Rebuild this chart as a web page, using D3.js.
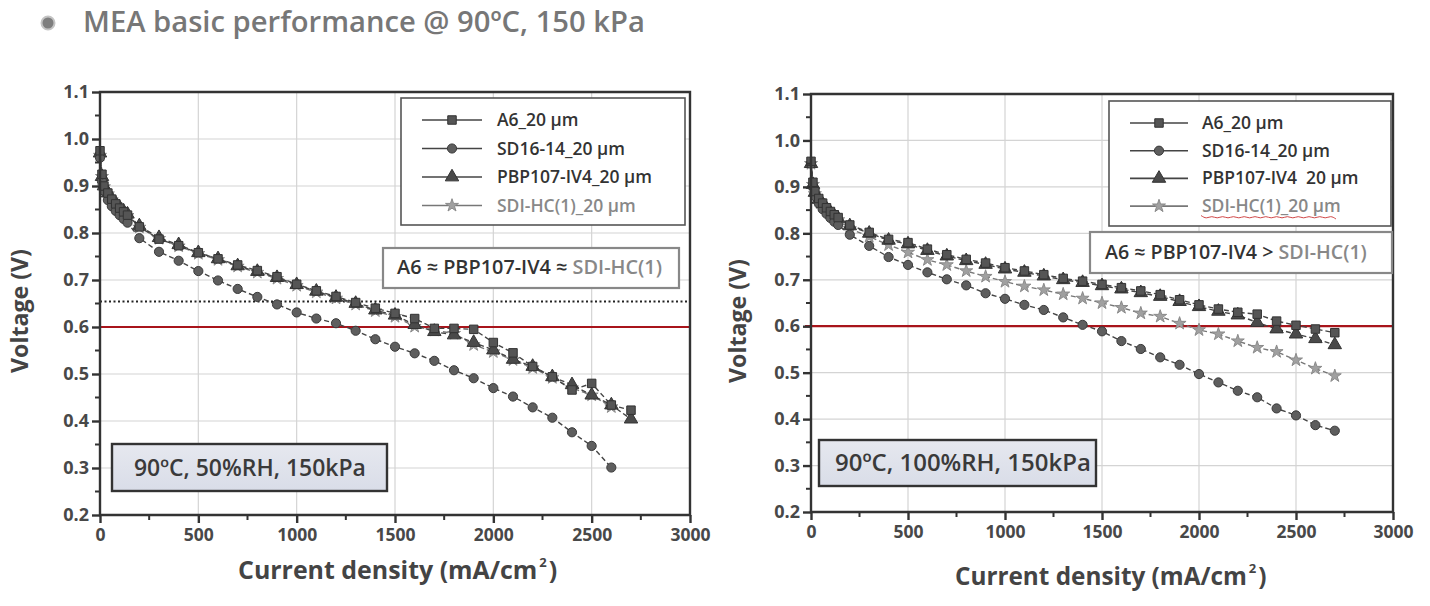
<!DOCTYPE html>
<html><head><meta charset="utf-8">
<script src="https://cdn.jsdelivr.net/npm/d3@7"></script>
<style>body{margin:0;background:#fff}svg{display:block}text{font-family:"Open Sans",sans-serif}</style>
</head><body>
<svg id="c" width="1430" height="606"></svg>
<script>
// ---------- DATA ----------
const currents = [0,10,20,40,60,80,100,120,140,200,300,400,500,600,700,800,900,1000,1100,1200,1300,1400,1500,1600,1700,1800,1900,2000,2100,2200,2300,2400,2500,2600,2700];
const seriesNames = ["A6_20 µm","SD16-14_20 µm","PBP107-IV4_20 µm","SDI-HC(1)_20 µm"];
const seriesNamesRight = ["A6_20 µm","SD16-14_20 µm","PBP107-IV4\u00a0\u00a020 µm","SDI-HC(1)_20 µm"];
// 90°C, 50%RH
const leftA6  = [0.975,0.925,0.90,0.885,0.872,0.862,0.853,0.845,0.838,0.813,0.787,0.773,0.758,0.745,0.732,0.720,0.707,0.691,0.677,0.665,0.652,0.640,0.629,0.618,0.597,0.597,0.595,0.567,0.545,0.516,0.494,0.466,0.480,0.434,0.423];
const leftSD  = [0.96,0.91,0.89,0.87,0.857,0.847,0.838,0.830,0.822,0.789,0.760,0.741,0.719,0.699,0.681,0.664,0.648,0.631,0.618,0.608,0.592,0.574,0.558,0.544,0.528,0.508,0.491,0.470,0.452,0.429,0.407,0.376,0.347,0.301,null];
const leftPBP = [0.97,0.92,0.90,0.885,0.873,0.863,0.854,0.846,0.840,0.815,0.790,0.775,0.758,0.745,0.730,0.718,0.705,0.690,0.676,0.663,0.650,0.636,0.625,0.605,0.590,0.583,0.567,0.551,0.531,0.516,0.494,0.477,0.455,0.434,0.404];
const leftSDI = [0.965,0.92,0.898,0.883,0.870,0.860,0.851,0.843,0.837,0.812,0.788,0.772,0.756,0.743,0.729,0.716,0.703,0.688,0.674,0.661,0.648,0.634,0.622,0.601,0.593,0.586,0.562,0.547,0.530,0.513,0.492,0.470,0.455,0.430,null];
// 90°C, 100%RH
const rightA6  = [0.955,0.91,0.89,0.875,0.865,0.855,0.847,0.840,0.834,0.818,0.802,0.787,0.780,0.766,0.754,0.744,0.736,0.726,0.719,0.711,0.703,0.697,0.690,0.683,0.676,0.668,0.657,0.646,0.637,0.630,0.626,0.611,0.602,0.594,0.586];
const rightSD  = [0.95,0.90,0.88,0.865,0.852,0.842,0.833,0.825,0.818,0.797,0.773,0.749,0.732,0.716,0.701,0.688,0.671,0.659,0.646,0.635,0.619,0.603,0.589,0.568,0.551,0.533,0.517,0.497,0.479,0.461,0.447,0.423,0.408,0.387,0.375];
const rightPBP = [0.95,0.905,0.888,0.873,0.863,0.853,0.845,0.838,0.832,0.816,0.800,0.785,0.777,0.763,0.751,0.741,0.733,0.723,0.716,0.708,0.700,0.694,0.687,0.680,0.672,0.664,0.653,0.642,0.632,0.624,0.608,0.594,0.583,0.573,0.560];
const rightSDI = [0.95,0.905,0.885,0.87,0.86,0.85,0.842,0.835,0.829,0.810,0.793,0.775,0.759,0.743,0.732,0.719,0.707,0.696,0.686,0.678,0.669,0.660,0.650,0.640,0.628,0.621,0.606,0.592,0.583,0.568,0.554,0.545,0.527,0.509,0.493];
const xTicks = [0,500,1000,1500,2000,2500,3000];
const yTicks = [0.2,0.3,0.4,0.5,0.6,0.7,0.8,0.9,1.0,1.1];
const refLine = 0.6;
const dottedLine = 0.654;
const titleText = "MEA basic performance @ 90ºC, 150 kPa";
const leftCondition = "90ºC, 50%RH, 150kPa";
const rightCondition = "90ºC, 100%RH, 150kPa";

// ---------- DRAW ----------
const svg = d3.select("#c");
svg.append("rect").attr("width",1430).attr("height",606).attr("fill","#fff");

function fit(sel, target){
  const n = sel.node(); const w = n.getComputedTextLength();
  const fs = parseFloat(sel.attr("font-size"));
  sel.attr("font-size", fs*target/w);
}

// title
svg.append("circle").attr("cx",48).attr("cy",23).attr("r",6.5).attr("fill","#7e7e7e").attr("stroke","#c4c4c4").attr("stroke-width",2);
fit(svg.append("text").attr("x",83).attr("y",32).attr("font-size",26).attr("font-weight",600)
  .attr("fill","#777").text(titleText), 562);

const symbols = [d3.symbolSquare, d3.symbolCircle, d3.symbolTriangle, d3.symbolStar];
const symSize = [72, 66, 78, 52];
const markFill = ["#555","#5e5e5e","#4a4a4a","#a0a0a0"];
const markStroke = ["#333","#3a3a3a","#333","#8a8a8a"];
const lineCol = ["#444","#444","#444","#777"];

function chart(o){
  const g = svg.append("g");
  const x = d3.scaleLinear().domain([0,3000]).range([o.x0,o.x1]);
  const y = d3.scaleLinear().domain([0.2,1.1]).range([o.y1,o.y0]);
  // grid
  g.append("g").selectAll("line").data(xTicks.slice(1,-1)).join("line")
    .attr("x1",d=>x(d)).attr("x2",d=>x(d)).attr("y1",o.y0).attr("y2",o.y1)
    .attr("stroke","#d4d4d4").attr("stroke-width",1.2);
  g.append("g").selectAll("line").data(yTicks.slice(1,-1)).join("line")
    .attr("x1",o.x0).attr("x2",o.x1).attr("y1",d=>y(d)).attr("y2",d=>y(d))
    .attr("stroke","#d4d4d4").attr("stroke-width",1.2);
  if(o.dotted!=null){
    g.append("line").attr("x1",o.x0).attr("x2",o.x1-2).attr("y1",y(o.dotted)).attr("y2",y(o.dotted))
      .attr("stroke","#222").attr("stroke-width",2).attr("stroke-dasharray","2,2.5");
  }
  g.append("line").attr("x1",o.x0-o.redExt).attr("x2",o.x1).attr("y1",y(refLine)).attr("y2",y(refLine))
    .attr("stroke","#a8141b").attr("stroke-width",2.2);
  // series
  const order = [3,2,1,0];
  order.forEach(i=>{
    const pts = currents.map((c,k)=>[c,o.data[i][k]]).filter(p=>p[1]!=null);
    g.append("path").attr("d", d3.line().x(p=>x(p[0])).y(p=>y(p[1]))(pts))
      .attr("fill","none").attr("stroke",lineCol[i]).attr("stroke-width",1.4).attr("stroke-dasharray","5,3");
    g.append("g").selectAll("path").data(pts).join("path")
      .attr("transform",p=>`translate(${x(p[0])},${y(p[1])})`)
      .attr("d", d3.symbol().type(symbols[i]).size(symSize[i]))
      .attr("fill",markFill[i]).attr("stroke",markStroke[i]).attr("stroke-width",1);
  });
  // axes
  const ax = g.append("g").attr("transform",`translate(0,${o.y1})`)
    .call(d3.axisBottom(x).tickValues(xTicks).tickSize(8).tickPadding(6).tickFormat(d3.format("d")));
  ax.select(".domain").remove();
  ax.selectAll(".tick line").attr("stroke","#333").attr("stroke-width",2.4);
  ax.selectAll("text").attr("font-size",17.5).attr("font-weight",700).attr("fill","#484848").attr("font-family","Open Sans");
  g.append("g").selectAll("line").data([250,750,1250,1750,2250,2750]).join("line")
    .attr("x1",d=>x(d)).attr("x2",d=>x(d)).attr("y1",o.y1).attr("y2",o.y1+5).attr("stroke","#333").attr("stroke-width",2);
  const ay = g.append("g").attr("transform",`translate(${o.x0},0)`)
    .call(d3.axisLeft(y).tickValues(yTicks).tickSize(8).tickPadding(3).tickFormat(d3.format(".1f")));
  ay.select(".domain").remove();
  ay.selectAll(".tick line").attr("stroke","#333").attr("stroke-width",2.4);
  ay.selectAll("text").attr("font-size",18).attr("font-weight",700).attr("fill","#484848").attr("font-family","Open Sans");
  g.append("g").selectAll("line").data([0.25,0.35,0.45,0.55,0.65,0.75,0.85,0.95,1.05]).join("line")
    .attr("x1",o.x0-5).attr("x2",o.x0).attr("y1",d=>y(d)).attr("y2",d=>y(d)).attr("stroke","#333").attr("stroke-width",2);
  // frame
  g.append("path").attr("d",`M${o.x0},${o.y1}V${o.y0}H${o.x1}V${o.y1}Z`).attr("fill","none").attr("stroke","#333").attr("stroke-width",2.4);
  // axis titles
  fit(g.append("text").attr("transform",`translate(${o.ytx},${o.yty}) rotate(-90)`).attr("text-anchor","middle")
    .attr("font-size",22).attr("font-weight",700).attr("fill","#444").text("Voltage (V)"), 124);
  const xt = g.append("text").attr("x",o.xtx).attr("y",o.xty).attr("font-size",23).attr("font-weight",700).attr("fill","#444");
  xt.append("tspan").text("Current density (mA/cm");
  xt.append("tspan").attr("font-size",13).attr("dy",-12).attr("dx",2).text("2");
  xt.append("tspan").attr("dy",12).attr("dx",2).text(")");
  fit(xt, o.xtw);
  // legend
  const L = o.leg;
  g.append("rect").attr("x",L.x).attr("y",L.y).attr("width",L.w).attr("height",L.h).attr("fill","#fff").attr("stroke","#555").attr("stroke-width",1.6);
  o.names.forEach((nm,i)=>{
    const yy = L.y + L.r0 + i*L.dy;
    g.append("line").attr("x1",L.lx).attr("x2",L.lx+L.lw).attr("y1",yy).attr("y2",yy).attr("stroke",lineCol[i]).attr("stroke-width",1.6);
    g.append("path").attr("transform",`translate(${L.lx+L.lw/2},${yy})`).attr("d",d3.symbol().type(symbols[i]).size(symSize[i]))
      .attr("fill",markFill[i]).attr("stroke",markStroke[i]);
    g.append("text").attr("x",L.tx).attr("y",yy+6).attr("font-size",17.5).attr("font-weight",600)
      .attr("fill", i==3?"#888":"#333").text(nm);
  });
  // comparison box
  const A = o.ann;
  g.append("rect").attr("x",A.x).attr("y",A.y).attr("width",A.w).attr("height",A.h).attr("fill","#fff").attr("stroke","#888").attr("stroke-width",2.2);
  const at = g.append("text").attr("x",A.tx).attr("y",A.y+A.h/2+6).attr("font-size",16.5).attr("font-weight",600).attr("fill","#333");
  at.append("tspan").text(A.t1);
  at.append("tspan").attr("fill","#888").text("SDI-HC(1)");
  fit(at, A.tw);
  // condition box
  const C = o.cond;
  g.append("rect").attr("x",C.x).attr("y",C.y).attr("width",C.w).attr("height",C.h).attr("fill","url(#cg)").attr("stroke","#333").attr("stroke-width",2.4);
  fit(g.append("text").attr("x",C.tx).attr("y",C.y+C.h/2+8).attr("font-size",22).attr("font-weight",600).attr("fill","#3a3a3a").text(C.t), C.tw);
  return {x,y,g};
}

const defs = svg.append("defs");
const lg = defs.append("linearGradient").attr("id","cg").attr("x1",0).attr("y1",0).attr("x2",0).attr("y2",1);
lg.append("stop").attr("offset","0%").attr("stop-color","#e6e8ef");
lg.append("stop").attr("offset","100%").attr("stop-color","#d9dde8");

chart({x0:100,x1:690,y0:92,y1:515,redExt:0,dotted:dottedLine,
  data:[leftA6,leftSD,leftPBP,leftSDI], names:seriesNames,
  ytx:28, yty:311, xtx:238, xty:579, xtw:316,
  leg:{x:401,y:98,w:284,h:127,r0:22,dy:28.5,lx:422,lw:60,tx:497},
  ann:{x:383,y:248,w:296,h:40,tx:397,t1:"A6 ≈ PBP107-IV4 ≈ ",tw:265},
  cond:{x:112,y:444,w:275,h:47,tx:134,t:leftCondition,tw:232}});

chart({x0:811,x1:1393,y0:94,y1:512,redExt:6,dotted:null,
  data:[rightA6,rightSD,rightPBP,rightSDI], names:seriesNamesRight,
  ytx:746, yty:321, xtx:955, xty:585, xtw:308,
  leg:{x:1109,y:101,w:282,h:125,r0:22,dy:27.7,lx:1130,lw:58,tx:1202},
  ann:{x:1090,y:232,w:302,h:41,tx:1105,t1:"A6 ≈ PBP107-IV4 > ",tw:262},
  cond:{x:819,y:440,w:277,h:46,tx:835,t:rightCondition,tw:256}});

// red wavy underline under the SDI legend label (right chart)
const wave = d3.range(0,26).map(i=>[1201+i*5.4, 217 + (i%2?2:-1.5)]);
svg.append("path").attr("d",d3.line().curve(d3.curveBasis)(wave)).attr("fill","none").attr("stroke","#d04848").attr("stroke-width",1);
</script>
</body></html>
